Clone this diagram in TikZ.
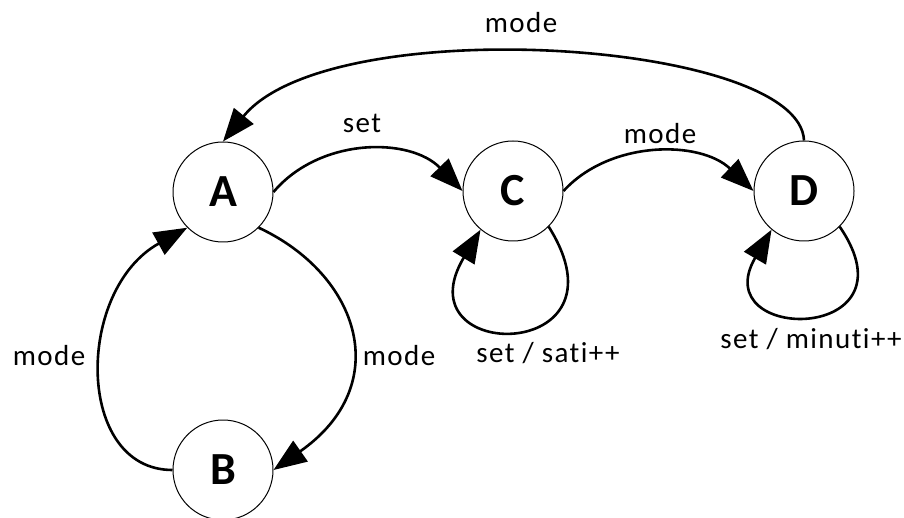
\documentclass[tikz,border=0pt]{standalone}
\usepackage{fontspec}
\setmainfont[Ligatures=NoCommon,LetterSpace=5]{Carlito}
\usetikzlibrary{arrows.meta}
\begin{document}
\begin{tikzpicture}[x=1pt,y=-1pt,
 state/.style={circle,draw,line width=1pt,minimum size=100pt,inner sep=0pt,font=\fontsize{46}{50}\selectfont\bfseries},
 edge/.style={line width=2.6pt,-{Triangle[length=33pt,width=25pt]}},
 lbl/.style={font=\fontsize{29}{34}\selectfont,inner sep=0pt,anchor=base}]
\useasboundingbox (0,0) rectangle (904,518);
\node[state] (A) at (223,192) {A};
\node[state] (C) at (513,191) {C};
\node[state] (D) at (804,191) {D};
\node[state] (B) at (223,470) {B};

\draw[edge] (A.east) .. controls (320,137) and (410,137) .. (C.west);
\draw[edge] (C.east) .. controls (610,140) and (700,140) .. (D.west);
\draw[edge] (D.north) .. controls (800,40) and (330,10) .. (A.north);
\draw[edge] (A.-45) .. controls (360,275) and (395,385) .. (B.east);
\draw[edge] (B.west) .. controls (75,470) and (75,290) .. (A.-135);
\draw[edge] (C.-45) .. controls (635,364) and (400,364) .. (C.-130);
\draw[edge] (D.-45) .. controls (920,344) and (705,344) .. (D.-130);

\node[lbl] (l1) at (362,133) {set};
\node[lbl] (l2) at (660,144) {mode};
\node[lbl] (l3) at (521,33) {mode};
\node[lbl] (l4) at (49,365) {mode};
\node[lbl] (l5) at (399,365) {mode};
\node[lbl] (l6) at (548,362) {set / sati++};
\node[lbl] (l7) at (811,348) {set / minuti++};
\end{tikzpicture}
\end{document}
